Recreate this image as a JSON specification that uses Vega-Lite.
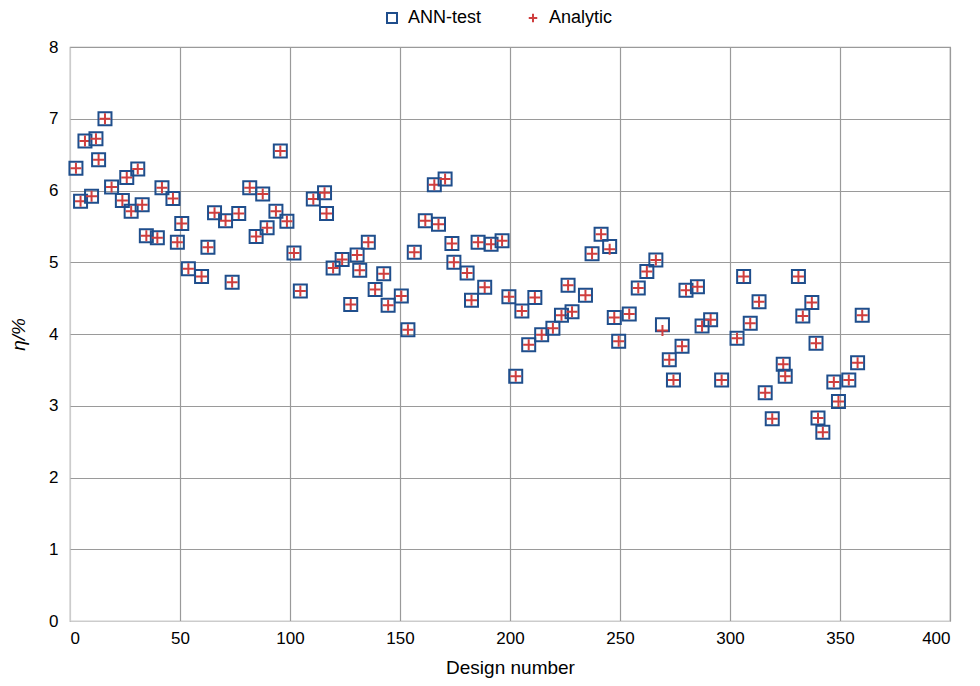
{
  "$schema": "https://vega.github.io/schema/vega-lite/v6.json",
  "autosize": "none",
  "width": 880,
  "height": 574,
  "padding": {"left": 70, "top": 47, "right": 30, "bottom": 65},
  "background": "white",
  "config": {
    "font": "Liberation Sans",
    "view": {"stroke": "#9a9a9a", "strokeWidth": 1.2},
    "axis": {
      "gridColor": {"condition": {"test": "datum.value === 0", "value": "#cccccc"}, "value": "#9a9a9a"},
      "gridWidth": 1.2,
      "gridOpacity": 1,
      "domain": false,
      "ticks": false,
      "labelFontSize": 17,
      "labelColor": "#000",
      "titleFontSize": 19,
      "titleFontWeight": "normal",
      "titleColor": "#000"
    }
  },
  "data": {
    "values": [
      {"n": 2.7, "ANN-test": 6.31, "Analytic": 6.31},
      {"n": 4.8, "ANN-test": 5.85, "Analytic": 5.85},
      {"n": 6.8, "ANN-test": 6.69, "Analytic": 6.69},
      {"n": 9.8, "ANN-test": 5.92, "Analytic": 5.92},
      {"n": 11.8, "ANN-test": 6.72, "Analytic": 6.72},
      {"n": 13.0, "ANN-test": 6.43, "Analytic": 6.43},
      {"n": 15.9, "ANN-test": 7.0, "Analytic": 7.0},
      {"n": 18.9, "ANN-test": 6.05, "Analytic": 6.05},
      {"n": 23.8, "ANN-test": 5.86, "Analytic": 5.86},
      {"n": 25.8, "ANN-test": 6.18, "Analytic": 6.18},
      {"n": 27.8, "ANN-test": 5.71, "Analytic": 5.71},
      {"n": 30.8, "ANN-test": 6.3, "Analytic": 6.3},
      {"n": 32.8, "ANN-test": 5.8, "Analytic": 5.8},
      {"n": 34.7, "ANN-test": 5.37, "Analytic": 5.37},
      {"n": 39.7, "ANN-test": 5.34, "Analytic": 5.34},
      {"n": 41.8, "ANN-test": 6.04, "Analytic": 6.04},
      {"n": 46.8, "ANN-test": 5.89, "Analytic": 5.89},
      {"n": 48.8, "ANN-test": 5.28, "Analytic": 5.28},
      {"n": 50.8, "ANN-test": 5.54, "Analytic": 5.54},
      {"n": 53.8, "ANN-test": 4.91, "Analytic": 4.91},
      {"n": 59.8, "ANN-test": 4.8, "Analytic": 4.8},
      {"n": 62.7, "ANN-test": 5.21, "Analytic": 5.21},
      {"n": 65.7, "ANN-test": 5.69, "Analytic": 5.69},
      {"n": 70.7, "ANN-test": 5.58, "Analytic": 5.58},
      {"n": 73.7, "ANN-test": 4.72, "Analytic": 4.72},
      {"n": 76.7, "ANN-test": 5.68, "Analytic": 5.68},
      {"n": 81.7, "ANN-test": 6.04, "Analytic": 6.04},
      {"n": 84.6, "ANN-test": 5.36, "Analytic": 5.36},
      {"n": 87.6, "ANN-test": 5.95, "Analytic": 5.95},
      {"n": 89.6, "ANN-test": 5.48, "Analytic": 5.48},
      {"n": 93.6, "ANN-test": 5.71, "Analytic": 5.71},
      {"n": 95.6, "ANN-test": 6.55, "Analytic": 6.55},
      {"n": 98.6, "ANN-test": 5.57, "Analytic": 5.57},
      {"n": 101.8, "ANN-test": 5.13, "Analytic": 5.13},
      {"n": 104.7, "ANN-test": 4.6, "Analytic": 4.6},
      {"n": 110.6, "ANN-test": 5.88, "Analytic": 5.88},
      {"n": 115.7, "ANN-test": 5.97, "Analytic": 5.97},
      {"n": 116.6, "ANN-test": 5.68, "Analytic": 5.68},
      {"n": 119.6, "ANN-test": 4.92, "Analytic": 4.92},
      {"n": 123.7, "ANN-test": 5.04, "Analytic": 5.04},
      {"n": 127.6, "ANN-test": 4.41, "Analytic": 4.41},
      {"n": 130.5, "ANN-test": 5.1, "Analytic": 5.1},
      {"n": 131.7, "ANN-test": 4.89, "Analytic": 4.89},
      {"n": 135.6, "ANN-test": 5.28, "Analytic": 5.28},
      {"n": 138.7, "ANN-test": 4.62, "Analytic": 4.62},
      {"n": 142.6, "ANN-test": 4.84, "Analytic": 4.84},
      {"n": 144.6, "ANN-test": 4.4, "Analytic": 4.4},
      {"n": 150.6, "ANN-test": 4.53, "Analytic": 4.53},
      {"n": 153.6, "ANN-test": 4.06, "Analytic": 4.06},
      {"n": 156.5, "ANN-test": 5.14, "Analytic": 5.14},
      {"n": 161.5, "ANN-test": 5.58, "Analytic": 5.58},
      {"n": 165.6, "ANN-test": 6.08, "Analytic": 6.08},
      {"n": 167.5, "ANN-test": 5.53, "Analytic": 5.53},
      {"n": 170.5, "ANN-test": 6.16, "Analytic": 6.16},
      {"n": 173.6, "ANN-test": 5.26, "Analytic": 5.26},
      {"n": 174.5, "ANN-test": 5.0, "Analytic": 5.0},
      {"n": 180.5, "ANN-test": 4.85, "Analytic": 4.85},
      {"n": 182.5, "ANN-test": 4.47, "Analytic": 4.47},
      {"n": 185.5, "ANN-test": 5.28, "Analytic": 5.28},
      {"n": 188.5, "ANN-test": 4.65, "Analytic": 4.65},
      {"n": 191.4, "ANN-test": 5.25, "Analytic": 5.25},
      {"n": 196.4, "ANN-test": 5.3, "Analytic": 5.3},
      {"n": 199.5, "ANN-test": 4.52, "Analytic": 4.52},
      {"n": 202.6, "ANN-test": 3.41, "Analytic": 3.41},
      {"n": 205.4, "ANN-test": 4.32, "Analytic": 4.32},
      {"n": 208.5, "ANN-test": 3.85, "Analytic": 3.85},
      {"n": 211.3, "ANN-test": 4.51, "Analytic": 4.51},
      {"n": 214.4, "ANN-test": 3.99, "Analytic": 3.99},
      {"n": 219.5, "ANN-test": 4.08, "Analytic": 4.08},
      {"n": 223.4, "ANN-test": 4.26, "Analytic": 4.26},
      {"n": 226.4, "ANN-test": 4.68, "Analytic": 4.68},
      {"n": 228.2, "ANN-test": 4.31, "Analytic": 4.31},
      {"n": 234.3, "ANN-test": 4.54, "Analytic": 4.54},
      {"n": 237.3, "ANN-test": 5.12, "Analytic": 5.12},
      {"n": 241.4, "ANN-test": 5.39, "Analytic": 5.39},
      {"n": 245.3, "ANN-test": 5.22, "Analytic": 5.18},
      {"n": 247.4, "ANN-test": 4.23, "Analytic": 4.23},
      {"n": 249.4, "ANN-test": 3.9, "Analytic": 3.9},
      {"n": 254.2, "ANN-test": 4.28, "Analytic": 4.28},
      {"n": 258.3, "ANN-test": 4.64, "Analytic": 4.64},
      {"n": 262.2, "ANN-test": 4.87, "Analytic": 4.87},
      {"n": 266.3, "ANN-test": 5.03, "Analytic": 5.03},
      {"n": 269.3, "ANN-test": 4.13, "Analytic": 4.05},
      {"n": 272.4, "ANN-test": 3.64, "Analytic": 3.64},
      {"n": 274.3, "ANN-test": 3.36, "Analytic": 3.36},
      {"n": 278.2, "ANN-test": 3.83, "Analytic": 3.83},
      {"n": 280.0, "ANN-test": 4.61, "Analytic": 4.61},
      {"n": 285.2, "ANN-test": 4.66, "Analytic": 4.66},
      {"n": 287.3, "ANN-test": 4.11, "Analytic": 4.11},
      {"n": 291.2, "ANN-test": 4.2, "Analytic": 4.2},
      {"n": 296.2, "ANN-test": 3.36, "Analytic": 3.36},
      {"n": 303.2, "ANN-test": 3.94, "Analytic": 3.94},
      {"n": 306.2, "ANN-test": 4.8, "Analytic": 4.8},
      {"n": 309.2, "ANN-test": 4.15, "Analytic": 4.15},
      {"n": 313.2, "ANN-test": 4.45, "Analytic": 4.45},
      {"n": 316.0, "ANN-test": 3.18, "Analytic": 3.18},
      {"n": 319.2, "ANN-test": 2.82, "Analytic": 2.82},
      {"n": 324.2, "ANN-test": 3.58, "Analytic": 3.58},
      {"n": 325.1, "ANN-test": 3.41, "Analytic": 3.41},
      {"n": 331.1, "ANN-test": 4.8, "Analytic": 4.8},
      {"n": 333.1, "ANN-test": 4.25, "Analytic": 4.25},
      {"n": 337.2, "ANN-test": 4.44, "Analytic": 4.44},
      {"n": 339.1, "ANN-test": 3.87, "Analytic": 3.87},
      {"n": 340.0, "ANN-test": 2.83, "Analytic": 2.83},
      {"n": 342.2, "ANN-test": 2.63, "Analytic": 2.63},
      {"n": 347.2, "ANN-test": 3.33, "Analytic": 3.33},
      {"n": 349.3, "ANN-test": 3.06, "Analytic": 3.06},
      {"n": 354.0, "ANN-test": 3.36, "Analytic": 3.36},
      {"n": 358.0, "ANN-test": 3.6, "Analytic": 3.6},
      {"n": 360.1, "ANN-test": 4.26, "Analytic": 4.26}
    ]
  },
  "transform": [
    {"fold": ["ANN-test", "Analytic"], "as": ["series", "eta"]}
  ],
  "mark": {"type": "point", "filled": false, "strokeWidth": 2, "size": 169, "opacity": 1},
  "encoding": {
    "x": {
      "field": "n", "type": "quantitative",
      "scale": {"domain": [0, 400], "nice": false, "zero": true},
      "axis": {"values": [0, 50, 100, 150, 200, 250, 300, 350, 400], "title": "Design number", "labelPadding": 9, "titlePadding": 12, "grid": true}
    },
    "y": {
      "field": "eta", "type": "quantitative",
      "scale": {"domain": [0, 8], "nice": false},
      "axis": {"values": [0, 1, 2, 3, 4, 5, 6, 7, 8], "title": "η/%", "titleFontStyle": "italic", "labelPadding": 12, "titlePadding": 20, "grid": true}
    },
    "color": {
      "field": "series", "type": "nominal",
      "scale": {"domain": ["ANN-test", "Analytic"], "range": ["#1f4e8c", "#cf3e3e"]},
      "legend": {
        "title": null, "orient": "none", "direction": "horizontal",
        "legendX": 313, "legendY": -38,
        "labelFontSize": 18, "labelColor": "#000",
        "symbolSize": 100, "symbolStrokeWidth": 2, "symbolFillColor": "transparent",
        "labelOffset": 7, "columnPadding": 42
      }
    },
    "shape": {
      "field": "series", "type": "nominal",
      "scale": {"domain": ["ANN-test", "Analytic"], "range": ["square", "M-0.85,0H0.85M0,-0.85V0.85"]}
    }
  }
}
